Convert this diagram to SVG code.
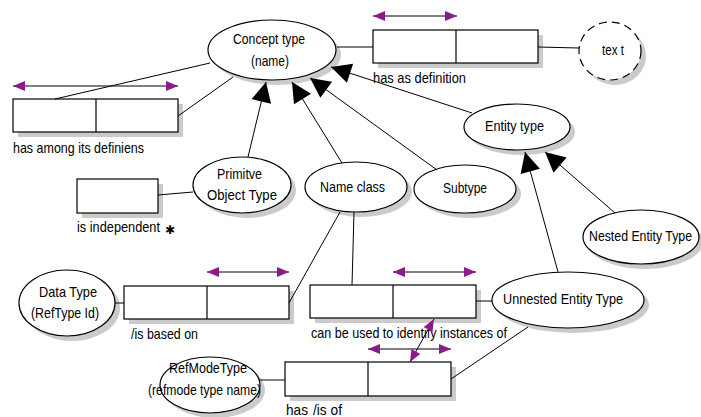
<svg xmlns="http://www.w3.org/2000/svg" width="701" height="417" viewBox="0 0 701 417">
  <style>
    .shadow { fill: #cbcbcb; stroke: none; }
    .shape { fill: #ffffff; stroke: #000000; stroke-width: 1.2; }
    .dashed { stroke-dasharray: 8 5; }
    .div { stroke: #000000; stroke-width: 1.2; }
    .lbl { font-family: "Liberation Sans", Arial, sans-serif; font-size: 15px; fill: #000000; }
    .conn { stroke: #000000; stroke-width: 1; fill: none; }
    .sub { marker-end: url(#tri); }
    .uni { marker-start: url(#pa); marker-end: url(#pa); }
  </style>
  <defs>
    <marker id="tri" viewBox="-21 -11 22 22" refX="0" refY="0" markerWidth="22" markerHeight="22" markerUnits="userSpaceOnUse" orient="auto">
      <path d="M0,0 L-20,-10 L-20,10 Z" fill="#000000"/>
    </marker>
    <marker id="pa" viewBox="-13 -6 14 12" refX="0" refY="0" markerWidth="14" markerHeight="12" markerUnits="userSpaceOnUse" orient="auto-start-reverse">
      <path d="M0,0 L-12,-5 L-12,5 Z" fill="#8b1a8b"/>
    </marker>
  </defs>

  <!-- entity / value types -->
  <g id="concept-type">
    <ellipse class="shadow" cx="277" cy="55" rx="64" ry="30"/>
    <ellipse class="shape" cx="272" cy="50" rx="64" ry="30"/>
    <text class="lbl" x="233" y="44" textLength="72" lengthAdjust="spacingAndGlyphs">Concept type</text>
    <text class="lbl" x="251" y="66" textLength="38" lengthAdjust="spacingAndGlyphs">(name)</text>
  </g>
  <g id="text-value">
    <ellipse class="shadow" cx="615" cy="56" rx="31" ry="29"/>
    <ellipse class="shape dashed" cx="610" cy="51" rx="31" ry="29"/>
    <text class="lbl" x="602" y="55" textLength="22" lengthAdjust="spacingAndGlyphs">tex t</text>
  </g>
  <g id="entity-type">
    <ellipse class="shadow" cx="522" cy="132" rx="53" ry="23"/>
    <ellipse class="shape" cx="517" cy="127" rx="53" ry="23"/>
    <text class="lbl" x="485" y="131" textLength="59" lengthAdjust="spacingAndGlyphs">Entity type</text>
  </g>
  <g id="primitive-object-type">
    <ellipse class="shadow" cx="247" cy="190" rx="49" ry="28"/>
    <ellipse class="shape" cx="242" cy="185" rx="49" ry="28"/>
    <text class="lbl" x="217" y="179" textLength="45" lengthAdjust="spacingAndGlyphs">Primitve</text>
    <text class="lbl" x="207" y="200" textLength="70" lengthAdjust="spacingAndGlyphs">Object Type</text>
  </g>
  <g id="name-class">
    <ellipse class="shadow" cx="361" cy="192" rx="51" ry="25"/>
    <ellipse class="shape" cx="356" cy="187" rx="51" ry="25"/>
    <text class="lbl" x="320" y="192" textLength="65" lengthAdjust="spacingAndGlyphs">Name class</text>
  </g>
  <g id="subtype">
    <ellipse class="shadow" cx="470" cy="194" rx="51" ry="24"/>
    <ellipse class="shape" cx="465" cy="189" rx="51" ry="24"/>
    <text class="lbl" x="443" y="193" textLength="44" lengthAdjust="spacingAndGlyphs">Subtype</text>
  </g>
  <g id="nested-entity-type">
    <ellipse class="shadow" cx="645" cy="242" rx="58" ry="27"/>
    <ellipse class="shape" cx="641" cy="237" rx="58" ry="27"/>
    <text class="lbl" x="589" y="241" textLength="103" lengthAdjust="spacingAndGlyphs">Nested Entity Type</text>
  </g>
  <g id="unnested-entity-type">
    <ellipse class="shadow" cx="573" cy="305" rx="76" ry="28"/>
    <ellipse class="shape" cx="568" cy="300" rx="76" ry="28"/>
    <text class="lbl" x="503" y="304" textLength="120" lengthAdjust="spacingAndGlyphs">Unnested Entity Type</text>
  </g>
  <g id="data-type">
    <ellipse class="shadow" cx="72" cy="308" rx="48" ry="33"/>
    <ellipse class="shape" cx="67" cy="303" rx="48" ry="33"/>
    <text class="lbl" x="39" y="297" textLength="58" lengthAdjust="spacingAndGlyphs">Data Type</text>
    <text class="lbl" x="31" y="318" textLength="68" lengthAdjust="spacingAndGlyphs">(RefType Id)</text>
  </g>
  <g id="refmode-type">
    <ellipse class="shadow" cx="215" cy="390" rx="50" ry="28"/>
    <ellipse class="shape" cx="210" cy="385" rx="50" ry="28"/>
    <text class="lbl" x="169" y="373" textLength="78" lengthAdjust="spacingAndGlyphs">RefModeType</text>
    <text class="lbl" x="148" y="395" textLength="113" lengthAdjust="spacingAndGlyphs">(refmode type name)</text>
  </g>

  <!-- fact types (role boxes) -->
  <g id="fact-has-as-definition">
    <rect class="shadow" x="378" y="35" width="165" height="33"/>
    <rect class="shape" x="373" y="30" width="165" height="33"/>
    <line class="div" x1="456" y1="30" x2="456" y2="63"/>
    <text class="lbl" x="373" y="83" textLength="93" lengthAdjust="spacingAndGlyphs">has as definition</text>
  </g>
  <g id="fact-has-among-its-definiens">
    <rect class="shadow" x="18" y="104" width="165" height="33"/>
    <rect class="shape" x="13" y="99" width="165" height="33"/>
    <line class="div" x1="96" y1="99" x2="96" y2="132"/>
    <text class="lbl" x="13" y="153" textLength="131" lengthAdjust="spacingAndGlyphs">has among its definiens</text>
  </g>
  <g id="fact-is-independent">
    <rect class="shadow" x="82" y="184" width="81" height="34"/>
    <rect class="shape" x="77" y="179" width="81" height="34"/>
    <text class="lbl" x="77" y="232" textLength="83" lengthAdjust="spacingAndGlyphs">is independent</text>
    <text x="165" y="234" font-family="DejaVu Sans, sans-serif" font-size="12" font-weight="bold">✱</text>
  </g>
  <g id="fact-is-based-on">
    <rect class="shadow" x="129" y="291" width="165" height="33"/>
    <rect class="shape" x="124" y="286" width="165" height="33"/>
    <line class="div" x1="207" y1="286" x2="207" y2="319"/>
    <text class="lbl" x="131" y="339" textLength="67" lengthAdjust="spacingAndGlyphs">/is based on</text>
  </g>
  <g id="fact-identifies">
    <rect class="shadow" x="315" y="290" width="166" height="33"/>
    <rect class="shape" x="310" y="285" width="166" height="33"/>
    <line class="div" x1="393" y1="285" x2="393" y2="318"/>
    <text class="lbl" x="311" y="338" textLength="196" lengthAdjust="spacingAndGlyphs">can be used to identify instances of</text>
  </g>
  <g id="fact-has-is-of">
    <rect class="shadow" x="290" y="367" width="166" height="34"/>
    <rect class="shape" x="285" y="362" width="166" height="34"/>
    <line class="div" x1="368" y1="362" x2="368" y2="396"/>
    <text class="lbl" x="286" y="415" textLength="22" lengthAdjust="spacingAndGlyphs">has</text>
    <text class="lbl" x="313" y="415" textLength="29" lengthAdjust="spacingAndGlyphs">/is of</text>
  </g>

  <!-- connectors -->
  <g id="connectors">
    <line class="conn" x1="337" y1="47" x2="373" y2="47"/>
    <line class="conn" x1="538" y1="47" x2="579" y2="48"/>
    <line class="conn" x1="55" y1="99" x2="210" y2="63"/>
    <line class="conn" x1="178" y1="116" x2="233" y2="77"/>
    <line class="conn" x1="158" y1="195" x2="193" y2="192"/>
    <line class="conn" x1="354" y1="212" x2="352" y2="285"/>
    <line class="conn" x1="340" y1="212" x2="289" y2="303"/>
    <line class="conn" x1="115" y1="303" x2="124" y2="303"/>
    <line class="conn" x1="476" y1="301" x2="492" y2="301"/>
    <line class="conn" x1="260" y1="380" x2="285" y2="380"/>
    <line class="conn" x1="451" y1="379" x2="528" y2="327"/>

    <!-- subtype links -->
    <line class="conn sub" x1="248" y1="157" x2="266" y2="82"/>
    <line class="conn sub" x1="342" y1="163" x2="292" y2="82"/>
    <line class="conn sub" x1="437" y1="170" x2="310" y2="78"/>
    <line class="conn sub" x1="472" y1="113" x2="331" y2="67"/>
    <line class="conn sub" x1="558" y1="272" x2="525" y2="152"/>
    <line class="conn sub" x1="615" y1="213" x2="545" y2="152"/>

    <!-- uniqueness constraints -->
    <line class="conn uni" x1="13" y1="86" x2="178" y2="86"/>
    <line class="conn uni" x1="373" y1="16" x2="457" y2="16"/>
    <line class="conn uni" x1="207" y1="272" x2="289" y2="272"/>
    <line class="conn uni" x1="393" y1="272" x2="476" y2="272"/>
    <line class="conn uni" x1="368" y1="349" x2="451" y2="349"/>
    <line class="conn uni" x1="434" y1="319" x2="410" y2="362"/>
  </g>
</svg>
